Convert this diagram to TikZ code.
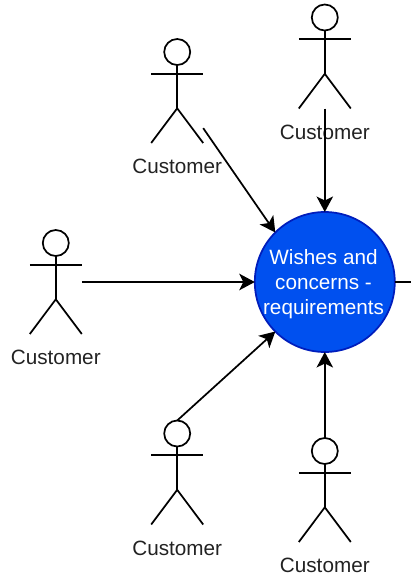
\documentclass[tikz,border=0pt]{standalone}
\usepackage{fontspec}
\setmainfont{Liberation Sans}
\usetikzlibrary{positioning,arrows.meta}
\definecolor{wishfill}{HTML}{0050EF}
\definecolor{wishline}{HTML}{001DBC}
\definecolor{labeltext}{HTML}{222222}
\tikzset{
  actorbox/.style={rectangle, minimum width=52pt, minimum height=104pt, inner sep=0pt, outer sep=0pt},
  stick/.style={draw=black, line width=1.73pt},
  lbl/.style={inner sep=0pt, outer sep=0pt, text=labeltext, font=\fontsize{20.7}{25}\selectfont},
  wish/.style={circle, minimum size=140pt, inner sep=0pt, outer sep=0pt, draw=wishline, line width=1.73pt, fill=wishfill},
  wishtext/.style={inner sep=0pt, text=white, align=center, font=\fontsize{20.7}{25}\selectfont},
  conn/.style={draw=black, line width=1.73pt, -{Stealth[length=15.5pt,width=16.5pt,inset=4pt]}},
  node distance=16.3pt
}
% one stick figure, drawn inside its box
\newcommand{\customer}[3]{
	\node[actorbox] (#1) at (#2,#3) {};
	\draw[stick] (#2,#3-52+13) circle[radius=13pt];
	\draw[stick] (#2,#3-52+26) -- (#2,#3+17.3);
	\draw[stick] (#2-26,#3-17.3) -- (#2+26,#3-17.3);
	\draw[stick] (#2-26,#3+52) -- (#2,#3+17.3) -- (#2+26,#3+52);
	\node[lbl, below=of #1] (#1label) {Customer};
}

\begin{document}
\begin{tikzpicture}[x=1pt,y=-1pt]
	\useasboundingbox (0,0) rectangle (411,576);
	\node[wish] (wishes) at (324.8,282) {};
	\node[wishtext, xshift=-1.3pt, yshift=-2.2pt] (wishlabel) at (wishes.center) {Wishes and\\concerns -\\requirements};
	%
	\customer{custA}{177.2}{91}
	\customer{custB}{324.8}{56.5}
	\customer{custC}{55.8}{282}
	\customer{custD}{177.2}{472.5}
	\customer{custE}{324.8}{490}
	%
	\coordinate (out) at (411,282);
	\draw[conn] (custA.-55.1) -- (wishes.north west);
	\draw[conn] (custB.south) -- (wishes.north);
	\draw[conn] (custC.east) -- (wishes.west);
	\draw[conn] (custD.north) -- (wishes.south west);
	\draw[conn] (custE.north) -- (wishes.south);
	\draw[stick] (wishes.east) -- (out);
\end{tikzpicture}
\end{document}
